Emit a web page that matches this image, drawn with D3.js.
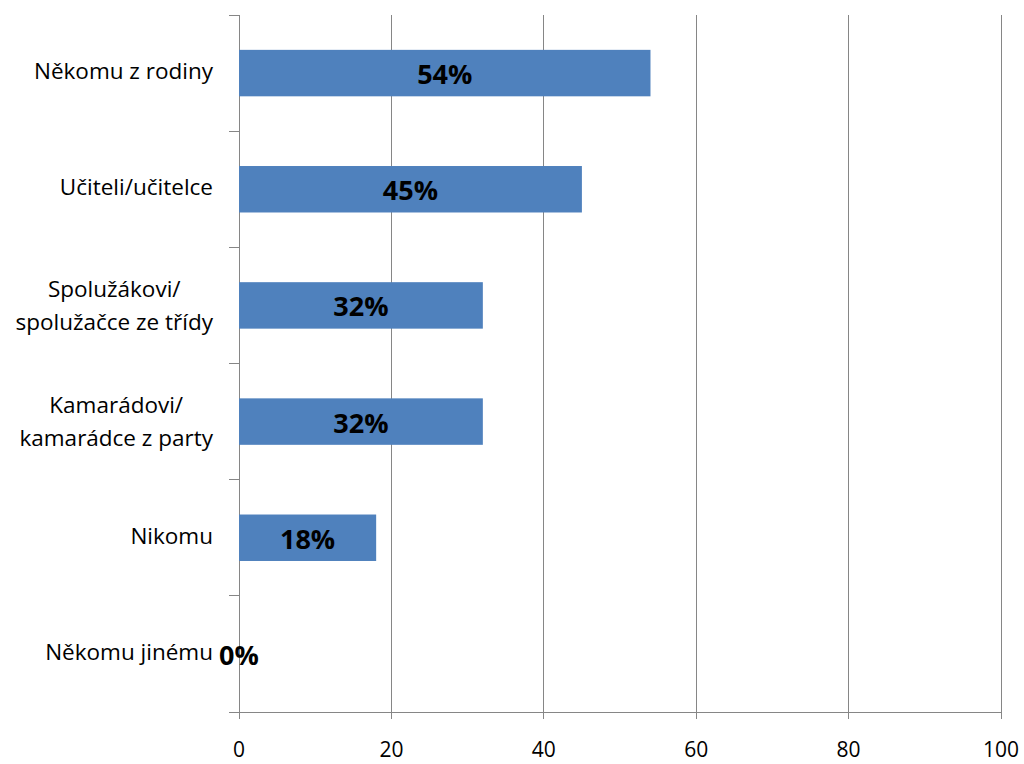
<!DOCTYPE html>
<html><head><meta charset="utf-8">
<script src="https://cdn.jsdelivr.net/npm/d3@7"></script>
<style>body{margin:0;background:#fff}svg{display:block}</style>
</head><body>
<svg id="c" width="1024" height="764"></svg>
<script>
const categories = [["Někomu z rodiny"], ["Učiteli/učitelce"], ["Spolužákovi/", "spolužačce ze třídy"], ["Kamarádovi/", "kamarádce z party"], ["Nikomu"], ["Někomu jinému"]];
const values = [54, 45, 32, 32, 18, 0];
const valueLabels = ["54%", "45%", "32%", "32%", "18%", "0%"];
const xTicks = [0, 20, 40, 60, 80, 100];

const svg = d3.select("#c");
const font = "'Open Sans', 'Liberation Sans', sans-serif";
const L = 239, R = 1001, T = 15, B = 712;
const x = d3.scaleLinear().domain([0, 100]).range([L, R]);
const y = d3.scaleBand().domain(d3.range(categories.length)).range([T, B]).paddingInner(0.6).paddingOuter(0.3);
const band = d3.scaleBand().domain(d3.range(categories.length)).range([T, B]);
const grey = "#868686";

svg.append("g").selectAll("line").data(xTicks.slice(1)).join("line")
  .attr("x1", d => x(d)).attr("x2", d => x(d)).attr("y1", T).attr("y2", B + 7)
  .attr("stroke", grey).attr("stroke-width", 1).attr("shape-rendering", "crispEdges");
svg.append("line").attr("x1", L - 10).attr("x2", R).attr("y1", B).attr("y2", B)
  .attr("stroke", grey).attr("shape-rendering", "crispEdges");
svg.append("line").attr("x1", L).attr("x2", L).attr("y1", T).attr("y2", B + 7)
  .attr("stroke", grey).attr("shape-rendering", "crispEdges");
svg.append("g").selectAll("line").data(d3.range(categories.length)).join("line")
  .attr("x1", L - 10).attr("x2", L).attr("y1", d => band(d)).attr("y2", d => band(d))
  .attr("stroke", grey).attr("shape-rendering", "crispEdges");
svg.append("g").selectAll("text").data(xTicks).join("text")
  .attr("x", d => x(d)).attr("y", 757).attr("text-anchor", "middle")
  .attr("font-family", font).attr("font-size", 21).attr("fill", "#000").text(d => d);

svg.append("g").selectAll("rect").data(values).join("rect")
  .attr("x", L).attr("y", (d, i) => y(i)).attr("width", d => x(d) - L).attr("height", y.bandwidth())
  .attr("fill", "#4F81BD");

svg.append("g").selectAll("text").data(values).join("text")
  .attr("x", d => (x(d) + L) / 2).attr("y", (d, i) => band(i) + band.bandwidth() / 2 + 11)
  .attr("text-anchor", "middle").attr("font-family", font).attr("font-weight", "bold")
  .attr("font-size", 27).attr("fill", "#000").text((d, i) => valueLabels[i]);

const labelRight = 213;
categories.forEach((lines, i) => {
  const cy = band(i) + band.bandwidth() / 2;
  const lh = 33;
  const off = lines.length > 1 ? 8 : 6;
  const g = svg.append("g");
  const texts = g.selectAll("text").data(lines).join("text")
    .attr("font-family", font).attr("font-size", 22.5).attr("fill", "#000")
    .attr("y", (d, k) => cy + off + (k - (lines.length - 1) / 2) * lh)
    .text(d => d);
  let maxW = 0;
  texts.each(function () { maxW = Math.max(maxW, this.getComputedTextLength()); });
  texts.attr("x", labelRight - maxW / 2).attr("text-anchor", "middle");
});
</script>
</body></html>
